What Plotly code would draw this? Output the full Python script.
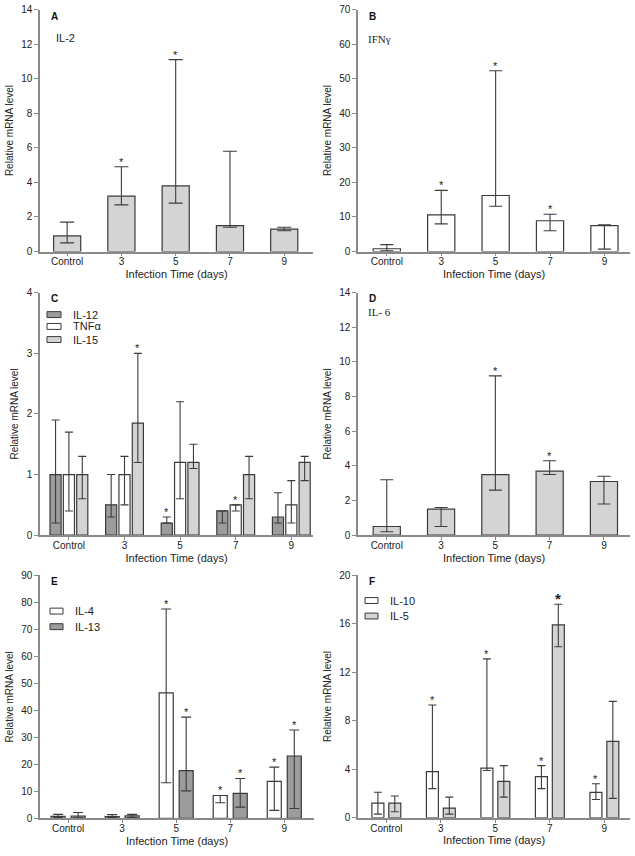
import plotly.graph_objects as go

W, H = 635, 856

cats = ["Control", "3", "5", "7", "9"]

# Panel A: IL-2
il2 = [0.9, 3.2, 3.8, 1.5, 1.3]
il2_lo = [0.5, 2.7, 2.8, 1.4, 1.2]
il2_hi = [1.7, 4.9, 11.1, 5.8, 1.4]
il2_sig = [0, 1, 1, 0, 0]

# Panel B: IFN-gamma
ifng = [0.8, 10.6, 16.2, 8.9, 7.5]
ifng_lo = [0.2, 8.0, 13.1, 6.0, 0.7]
ifng_hi = [2.0, 17.7, 52.3, 10.8, 7.7]
ifng_sig = [0, 1, 1, 1, 0]

# Panel C: IL-12, TNFa, IL-15
il12 = [1.0, 0.5, 0.2, 0.4, 0.3]
il12_lo = [0.2, 0.3, 0.2, 0.2, 0.2]
il12_hi = [1.9, 1.0, 0.3, 0.4, 0.7]
il12_sig = [0, 0, 1, 0, 0]
tnf = [1.0, 1.0, 1.2, 0.5, 0.5]
tnf_lo = [0.4, 0.5, 0.6, 0.4, 0.2]
tnf_hi = [1.7, 1.3, 2.2, 0.5, 0.9]
tnf_sig = [0, 0, 0, 1, 0]
il15 = [1.0, 1.85, 1.2, 1.0, 1.2]
il15_lo = [0.6, 1.2, 1.1, 0.6, 0.9]
il15_hi = [1.3, 3.0, 1.5, 1.3, 1.3]
il15_sig = [0, 1, 0, 0, 0]

# Panel D: IL-6
il6 = [0.5, 1.5, 3.5, 3.7, 3.1]
il6_lo = [0.2, 0.5, 2.6, 3.5, 1.8]
il6_hi = [3.2, 1.6, 9.2, 4.3, 3.4]
il6_sig = [0, 0, 1, 1, 0]

# Panel E: IL-4, IL-13
il4 = [0.8, 0.7, 46.5, 8.5, 13.7]
il4_lo = [0.3, 0.3, 13.2, 5.8, 3.0]
il4_hi = [1.5, 1.4, 77.5, 8.5, 19.0]
il4_sig = [0, 0, 1, 1, 1]
il13 = [0.9, 1.0, 17.7, 9.3, 23.1]
il13_lo = [0.2, 0.4, 10.2, 4.2, 3.7]
il13_hi = [2.2, 1.5, 37.5, 14.8, 32.7]
il13_sig = [0, 0, 1, 1, 1]

# Panel F: IL-10, IL-5
il10 = [1.2, 3.8, 4.1, 3.4, 2.1]
il10_lo = [0.3, 2.4, 3.9, 2.4, 1.5]
il10_hi = [2.1, 9.3, 13.1, 4.3, 2.8]
il10_sig = [0, 1, 1, 1, 1]
il5 = [1.2, 0.8, 3.0, 15.9, 6.3]
il5_lo = [0.5, 0.3, 1.7, 14.1, 1.6]
il5_hi = [1.8, 1.7, 4.3, 17.6, 9.6]
il5_sig = [0, 0, 0, 2, 0]

WHITE = "#ffffff"
LIGHT = "#d4d4d4"
DARK = "#9c9c9c"
EDGE = "#3a3a3a"
AXC = "#8a8a8a"
SANS = "Arial, Liberation Sans, sans-serif"
SERIF = "Times New Roman, Liberation Serif, serif"


def xp(px):
    return px / W


def yp(py):
    return 1 - py / H


# pixel boxes: (left, right, top, bottom), x-range, y-range, dtick
panels = {
    1: dict(box=(40, 313, 3.6, 249), xr=[-0.5, 4.53], yr=[0, 14], dt=2),
    2: dict(box=(358, 630, 3.6, 249), xr=[-0.53, 4.47], yr=[0, 70], dt=10),
    3: dict(box=(40, 313, 290.8, 536.7), xr=[-0.52, 4.39], yr=[0, 4], dt=1),
    4: dict(box=(358, 630, 290.8, 536.7), xr=[-0.53, 4.48], yr=[0, 14], dt=2),
    5: dict(box=(40, 314, 577.3, 824), xr=[-0.52, 4.55], yr=[0, 90], dt=10),
    6: dict(box=(358, 630, 577.3, 823.3), xr=[-0.52, 4.47], yr=[0, 20], dt=4),
}

fig = go.Figure()
annotations = []
shapes = []

xs = list(range(len(cats)))


def add_series(n, vals, lo, hi, sig, color, width, center, cap):
    xa = "x" if n == 1 else f"x{n}"
    ya = "y" if n == 1 else f"y{n}"
    plus = [h - v for h, v in zip(hi, vals)]
    minus = [v - l for v, l in zip(vals, lo)]
    fig.add_trace(go.Bar(
        x=xs, y=vals, xaxis=xa, yaxis=ya,
        width=width, offset=center - width / 2,
        marker=dict(color=color, line=dict(color=EDGE, width=1.2)),
        error_y=dict(type="data", symmetric=False, array=plus, arrayminus=minus,
                     color="#3c3c3c", thickness=1.1, width=cap),
        showlegend=False,
    ))
    for i, s in enumerate(sig):
        if s:
            big = s == 2
            annotations.append(dict(
                x=i + center, y=hi[i], xref=xa, yref=ya, text="<b>*</b>" if big else "*",
                showarrow=False, yanchor="bottom", yshift=-3 if not big else -5,
                font=dict(family=SANS, size=15 if big else 11, color="#222"),
            ))


add_series(1, il2, il2_lo, il2_hi, il2_sig, LIGHT, 0.5, 0.0, 7)
add_series(2, ifng, ifng_lo, ifng_hi, ifng_sig, WHITE, 0.5, 0.0, 6.5)
add_series(3, il12, il12_lo, il12_hi, il12_sig, DARK, 0.2, -0.24, 4)
add_series(3, tnf, tnf_lo, tnf_hi, tnf_sig, WHITE, 0.2, 0.0, 4)
add_series(3, il15, il15_lo, il15_hi, il15_sig, LIGHT, 0.2, 0.24, 4)
add_series(4, il6, il6_lo, il6_hi, il6_sig, LIGHT, 0.5, 0.0, 6.5)
add_series(5, il4, il4_lo, il4_hi, il4_sig, WHITE, 0.26, -0.185, 5)
add_series(5, il13, il13_lo, il13_hi, il13_sig, DARK, 0.26, 0.185, 5)
add_series(6, il10, il10_lo, il10_hi, il10_sig, WHITE, 0.22, -0.155, 4)
add_series(6, il5, il5_lo, il5_hi, il5_sig, LIGHT, 0.22, 0.155, 4)

layout = dict(
    width=W, height=H, margin=dict(l=0, r=0, t=0, b=0),
    paper_bgcolor="white", plot_bgcolor="white",
    barmode="overlay", showlegend=False,
    font=dict(family=SANS, size=10, color="#222"),
)

for n, p in panels.items():
    l, r, t, b = p["box"]
    xk = "xaxis" if n == 1 else f"xaxis{n}"
    yk = "yaxis" if n == 1 else f"yaxis{n}"
    ya = "y" if n == 1 else f"y{n}"
    xa = "x" if n == 1 else f"x{n}"
    layout[xk] = dict(
        domain=[xp(l), xp(r)], anchor=ya, range=p["xr"],
        tickmode="array", tickvals=xs, ticktext=cats,
        showline=True, linecolor=AXC, linewidth=1.5,
        ticks="outside", ticklen=3, tickcolor=AXC, tickwidth=1,
        ticklabelstandoff=-3,
        showgrid=False, zeroline=False,
        tickfont=dict(family=SANS, size=10, color="#222"),
        title=dict(text="Infection Time (days)", font=dict(family=SANS, size=11, color="#222"), standoff=4),
    )
    layout[yk] = dict(
        domain=[yp(b), yp(t)], anchor=xa, range=p["yr"], dtick=p["dt"], tick0=0,
        showline=True, linecolor=AXC, linewidth=1.5,
        ticks="outside", ticklen=4, tickcolor=AXC, tickwidth=1,
        showgrid=False, zeroline=False,
        tickfont=dict(family=SANS, size=10, color="#222"),
        title=dict(text="Relative mRNA level", font=dict(family=SANS, size=10, color="#222"), standoff=6),
    )

# panel letters and single-series labels
labels = [
    ("A", 49, 11), ("B", 367, 11),
    ("C", 49, 297), ("D", 367, 297),
    ("E", 49, 584), ("F", 367, 584),
]
for txt, x, y in labels:
    annotations.append(dict(x=xp(x), y=yp(y), xref="paper", yref="paper", text=f"<b>{txt}</b>",
                            showarrow=False, xanchor="left", yanchor="middle",
                            font=dict(family=SANS, size=10, color="#111")))
for txt, x, y, fam in [("IL-2", 54, 32, SANS), ("IFNγ", 366, 33, SERIF), ("IL- 6", 366, 310, SERIF)]:
    annotations.append(dict(x=xp(x), y=yp(y), xref="paper", yref="paper", text=txt,
                            showarrow=False, xanchor="left", yanchor="middle",
                            font=dict(family=fam, size=11, color="#222")))

# legends (swatch + label)
legends = [
    ("IL-12", DARK, 47, 61, 313, 71),
    ("TNFα", WHITE, 47, 61, 325, 71),
    ("IL-15", LIGHT, 47, 61, 338.3, 71),
    ("IL-4", WHITE, 50, 63, 613.7, 73),
    ("IL-13", DARK, 50, 63, 629.5, 73),
    ("IL-10", WHITE, 365, 378, 603, 388),
    ("IL-5", LIGHT, 365, 378, 618.7, 388),
]
for txt, col, x0, x1, yc, tx in legends:
    shapes.append(dict(type="rect", xref="paper", yref="paper",
                       x0=xp(x0), x1=xp(x1), y0=yp(yc + 3), y1=yp(yc - 3),
                       fillcolor=col, line=dict(color=EDGE, width=1)))
    annotations.append(dict(x=xp(tx), y=yp(yc), xref="paper", yref="paper", text=txt,
                            showarrow=False, xanchor="left", yanchor="middle",
                            font=dict(family=SANS, size=11, color="#222")))

layout["annotations"] = annotations
layout["shapes"] = shapes
fig.update_layout(**layout)
fig.write_html("out.html", config={"displayModeBar": False},
               post_script="document.body.style.margin='0';")
